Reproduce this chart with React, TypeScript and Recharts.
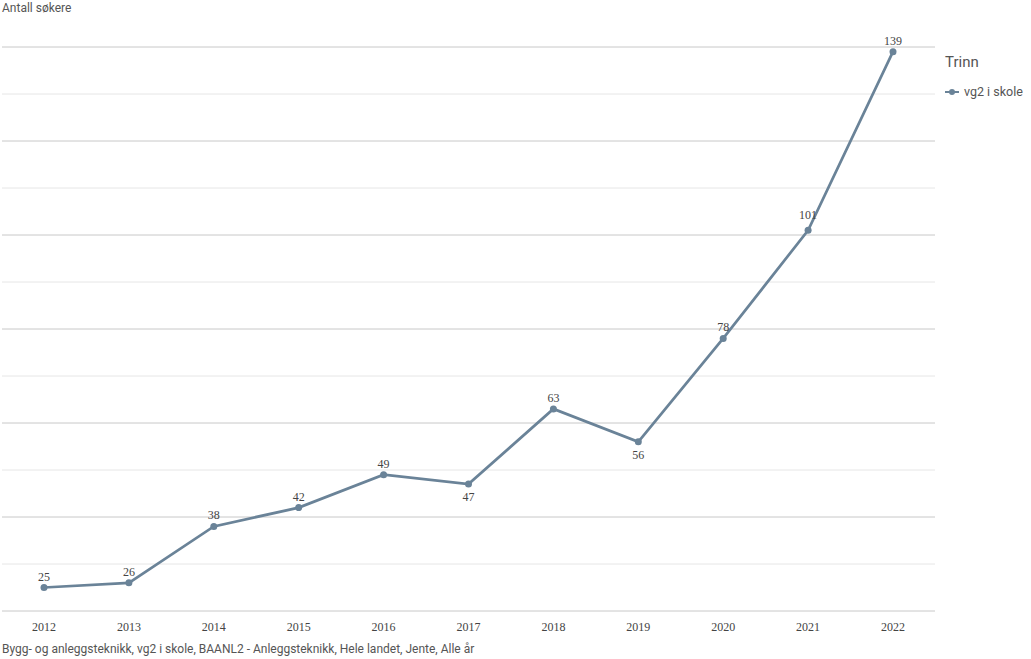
import React from 'react';
import {
  LineChart,
  Line,
  XAxis,
  YAxis,
  CartesianGrid,
  LabelList,
} from 'recharts';

// Years and number of applicants
const years = ['2012', '2013', '2014', '2015', '2016', '2017', '2018', '2019', '2020', '2021', '2022'];
const applicants = [25, 26, 38, 42, 49, 47, 63, 56, 78, 101, 139];
// where the value label sits relative to the point
const labelSide = ['up', 'up', 'up', 'up', 'up', 'down', 'up', 'down', 'up', 'high', 'up'];

const majorTicks = [20, 40, 60, 80, 100, 120, 140];
const minorTicks = [30, 50, 70, 90, 110, 130];

const seriesName = 'vg2 i skole';
const lineColor = '#6a8398';

const data = years.map((year, i) => ({ year, value: applicants[i] }));

const ValueLabel = (props: any) => {
  const { x, y, value, index } = props;
  const side = labelSide[index];
  const ty = side === 'down' ? y + 17 : side === 'high' ? y - 11 : y - 7;
  return (
    <text
      x={x}
      y={ty}
      textAnchor="middle"
      fill="#444"
      fontSize={12}
      fontFamily="'Liberation Serif', serif"
    >
      {value}
    </text>
  );
};

export default function App() {
  return (
    <div
      style={{
        position: 'absolute',
        left: 0,
        top: 0,
        width: 1023,
        height: 659,
        overflow: 'hidden',
        background: '#fff',
      }}
    >
      <div
        style={{
          position: 'absolute',
          left: 2,
          top: 1,
          fontFamily: 'Roboto, sans-serif',
          fontSize: 12,
          color: '#555',
        }}
      >
        Antall søkere
      </div>
      <LineChart
        width={1031}
        height={659}
        data={data}
        margin={{ top: 47, right: 96, left: 2, bottom: 18 }}
      >
        <CartesianGrid vertical={false} stroke="#e6e6e6" horizontalValues={minorTicks} />
        <CartesianGrid vertical={false} stroke="#c8c8c8" horizontalValues={majorTicks} />
        <XAxis
          dataKey="year"
          axisLine={false}
          tickLine={false}
          padding={{ left: 42, right: 42 }}
          tick={{ fill: '#444', fontSize: 12, fontFamily: "'Liberation Serif', serif" }}
          dy={3}
        />
        <YAxis hide domain={[20, 140]} ticks={[...majorTicks, ...minorTicks].sort((a, b) => a - b)} />
        <Line
          type="linear"
          dataKey="value"
          name={seriesName}
          stroke={lineColor}
          strokeWidth={2.7}
          dot={{ r: 3.5, fill: lineColor, stroke: lineColor, strokeWidth: 0 }}
          activeDot={false}
          isAnimationActive={false}
        >
          <LabelList dataKey="value" content={<ValueLabel />} />
        </Line>
      </LineChart>
      <div
        style={{
          position: 'absolute',
          left: 945,
          top: 53,
          fontFamily: 'Roboto, sans-serif',
          color: '#555',
          whiteSpace: 'nowrap',
        }}
      >
        <div style={{ fontSize: 15, marginBottom: 13 }}>Trinn</div>
        <div style={{ display: 'flex', alignItems: 'center', fontSize: 12.5 }}>
          <svg width={14} height={8} style={{ marginRight: 5 }}>
            <line x1={0} y1={4} x2={14} y2={4} stroke={lineColor} strokeWidth={2} />
            <circle cx={7} cy={4} r={3} fill={lineColor} />
          </svg>
          {seriesName}
        </div>
      </div>
      <div
        style={{
          position: 'absolute',
          left: 2,
          top: 642,
          fontFamily: 'Roboto, sans-serif',
          fontSize: 12,
          color: '#555',
          whiteSpace: 'nowrap',
        }}
      >
        Bygg- og anleggsteknikk, vg2 i skole, BAANL2 - Anleggsteknikk, Hele landet, Jente, Alle år
      </div>
    </div>
  );
}
